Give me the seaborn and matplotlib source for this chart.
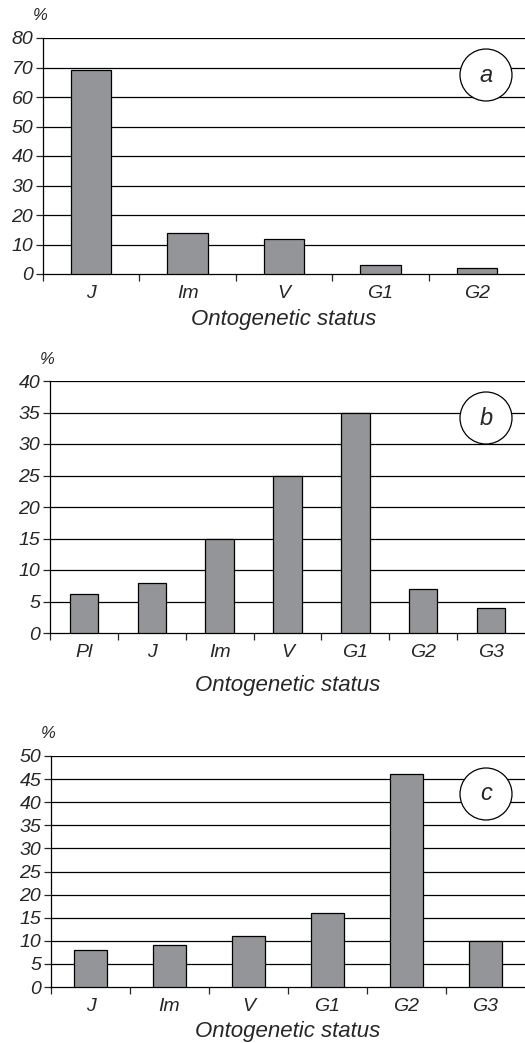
import matplotlib
matplotlib.use("Agg")
import matplotlib.pyplot as plt
import seaborn as sns
import pandas as pd
from matplotlib.patches import Ellipse

# panel data
status_a = ["J", "Im", "V", "G1", "G2"]
share_a = [69, 14, 12, 3, 2]

status_b = ["Pl", "J", "Im", "V", "G1", "G2", "G3"]
share_b = [6.2, 8, 15, 25, 35, 7, 4]

status_c = ["J", "Im", "V", "G1", "G2", "G3"]
share_c = [8, 9, 11, 16, 46, 10]

ymax_list = [80, 40, 50]
ystep_list = [10, 5, 5]
panel_tags = ["a", "b", "c"]

sns.set_style("white")
plt.rcParams["font.family"] = ["Liberation Sans", "DejaVu Sans"]
plt.rcParams["font.style"] = "italic"

fig = plt.figure(figsize=(5.25, 10.43), dpi=100)
W, H = 525, 1043

# axes boxes in pixels: left, top(ymax), bottom(0)
boxes = [(43, 38, 274), (50, 381, 633), (51, 756, 987)]
xlabel_y = [320, 685, 1032]
circle_y = [75, 418, 794]

panels = [(status_a, share_a), (status_b, share_b), (status_c, share_c)]

for i, (cats, vals) in enumerate(panels):
    left, top, bot = boxes[i]
    ax = fig.add_axes([left / W, 1 - bot / H, (W - left) / W, (bot - top) / H])
    df = pd.DataFrame({"status": cats, "share": vals})
    sns.barplot(data=df, x="status", y="share", color="#939598", width=0.42,
                edgecolor="black", linewidth=0.9, saturation=1, ax=ax, zorder=3)
    n = len(cats)
    ax.set_xlim(-0.5, n - 0.5)
    ax.set_ylim(0, ymax_list[i])
    ticks = list(range(0, ymax_list[i] + 1, ystep_list[i]))
    ax.set_yticks(ticks)
    ax.set_yticklabels([str(t) for t in ticks], fontsize=14, style="italic")
    for t in ticks[1:]:
        ax.axhline(t, color="black", lw=0.9, zorder=1)
    # category labels centred, tick marks at boundaries
    ax.set_xticks(range(n))
    ax.set_xticklabels(cats, fontsize=14, style="italic")
    ax.tick_params(axis="x", length=0, pad=8)
    ax.set_xticks([k - 0.5 for k in range(n)], minor=True)
    ax.tick_params(axis="x", which="minor", length=5, width=0.9, direction="out", bottom=True)
    ax.tick_params(axis="y", length=5, width=0.9, direction="out", left=True, pad=2)
    for s in ["top", "right"]:
        ax.spines[s].set_visible(False)
    for s in ["left", "bottom"]:
        ax.spines[s].set_color("black")
        ax.spines[s].set_linewidth(0.9)
    ax.set_xlabel("")
    ax.set_ylabel("")
    fig.text((left - 10) / W, 1 - (top - 22) / H, "%", fontsize=12, style="italic",
             ha="left", va="center")
    fig.text((W + left) / 2 / W, 1 - xlabel_y[i] / H, "Ontogenetic status",
             fontsize=16, style="italic", ha="center", va="center")
    circ = Ellipse((486 / W, 1 - circle_y[i] / H), 52 / W, 52 / H,
                   transform=fig.transFigure, facecolor="white", edgecolor="black",
                   lw=0.9, zorder=5)
    fig.patches.append(circ)
    fig.text(486 / W, 1 - circle_y[i] / H, panel_tags[i], fontsize=17, style="italic",
             ha="center", va="center", zorder=6)

fig.savefig("out.png", dpi=100)
